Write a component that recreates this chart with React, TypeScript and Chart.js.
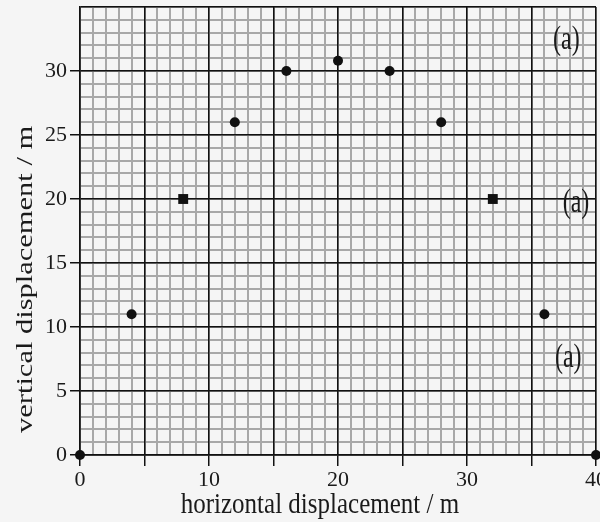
import { useEffect, useRef } from "react";
import { Chart, registerables } from "chart.js";

Chart.register(...registerables);

// ---- data ----
const xValues = [0, 4, 8, 12, 16, 20, 24, 28, 32, 36, 40];
const yValues = [0, 11, 20, 26, 30, 30.8, 30, 26, 20, 11, 0];
const pointShapes = ["circle", "circle", "rect", "circle", "circle", "circle", "circle", "circle", "rect", "circle", "circle"];
const xTickLabels = [0, 10, 20, 30, 40];
const yTickLabels = [0, 5, 10, 15, 20, 25, 30];
const noteText = "(a)";
const noteX = [37.7, 38.45, 37.85];
const noteY = [32.4, 19.7, 7.56];
const xTitle = "horizontal displacement / m";
const yTitle = "vertical displacement / m";

const FONT = "'Liberation Serif', 'DejaVu Serif', serif";
const INK = "#1a1a1a";

const textPlugin = {
  id: "textPlugin",
  beforeDraw(chart: any) {
    const ctx = chart.ctx;
    ctx.save();
    ctx.fillStyle = "#f5f5f5";
    ctx.fillRect(0, 0, chart.width, chart.height);
    ctx.restore();
  },
  afterDraw(chart: any) {
    const ctx = chart.ctx;
    const a = chart.chartArea;
    const xs = chart.scales.x;
    const ys = chart.scales.y;
    ctx.save();
    ctx.fillStyle = INK;
    // x title
    ctx.save();
    ctx.translate(a.left + (a.right - a.left) * 0.465, a.bottom + 58);
    ctx.scale(1, 1.2);
    ctx.font = `25px ${FONT}`;
    ctx.textAlign = "center";
    ctx.textBaseline = "alphabetic";
    ctx.fillText(xTitle, 0, 0);
    ctx.restore();
    // y title
    ctx.save();
    ctx.translate(26, a.top + (a.bottom - a.top) * 0.608);
    ctx.rotate(-Math.PI / 2);
    ctx.scale(1.27, 1);
    ctx.font = `24px ${FONT}`;
    ctx.textAlign = "center";
    ctx.textBaseline = "middle";
    ctx.fillText(yTitle, 0, 0);
    ctx.restore();
    // notes
    for (let i = 0; i < noteX.length; i++) {
      const px = xs.getPixelForValue(noteX[i]);
      const py = ys.getPixelForValue(noteY[i]);
      ctx.save();
      ctx.translate(px, py);
      ctx.scale(1, 1.4);
      ctx.font = `24px ${FONT}`;
      ctx.textAlign = "center";
      ctx.textBaseline = "middle";
      ctx.fillText(noteText, 0, 0);
      ctx.restore();
    }
    ctx.restore();
  },
};

export default function App() {
  const ref = useRef<HTMLCanvasElement | null>(null);

  useEffect(() => {
    if (!ref.current) return;
    const chart = new Chart(ref.current, {
      type: "scatter",
      data: {
        datasets: [
          {
            data: xValues.map((x, i) => ({ x, y: yValues[i] })),
            backgroundColor: "#111",
            borderColor: "#111",
            pointRadius: pointShapes.map((s) => (s === "rect" ? 7 : 5)),
            pointStyle: pointShapes as any,
            borderWidth: 0,
            clip: false as any,
            showLine: false,
            xAxisID: "x",
            yAxisID: "y",
          },
        ],
      },
      options: {
        responsive: false,
        maintainAspectRatio: false,
        devicePixelRatio: 1,
        animation: false,
        layout: { padding: { left: 0, top: 6, right: 24, bottom: 0 } },
        plugins: { legend: { display: false }, tooltip: { enabled: false } },
        scales: {
          x2: {
            axis: "x",
            type: "linear",
            position: "bottom",
            min: 0,
            max: 40,
            ticks: { display: false, stepSize: 1 },
            grid: { color: "#a8a8a8", lineWidth: 2, drawTicks: false, z: -2 },
            border: { display: false },
          },
          y2: {
            axis: "y",
            type: "linear",
            position: "left",
            min: 0,
            max: 35,
            ticks: { display: false, stepSize: 1 },
            grid: { color: "#a8a8a8", lineWidth: 2, drawTicks: false, z: -2 },
            border: { display: false },
          },
          x: {
            type: "linear",
            position: "bottom",
            min: 0,
            max: 40,
            afterFit: (s: any) => {
              s.height = 67;
            },
            ticks: {
              stepSize: 5,
              autoSkip: false,
              maxRotation: 0,
              padding: 1,
              color: INK,
              font: { family: FONT, size: 22 },
              callback: (v: any) => (xTickLabels.includes(Number(v)) ? String(v) : ""),
            },
            grid: { color: "#111", lineWidth: 1.5, tickLength: 11, tickColor: "#111", z: -1 },
            border: { display: true, color: "#111", width: 1.5 },
          },
          y: {
            type: "linear",
            position: "left",
            min: 0,
            max: 35,
            afterFit: (s: any) => {
              s.width = 80;
              s.paddingTop = 0;
              s.paddingBottom = 0;
            },
            ticks: {
              stepSize: 5,
              autoSkip: false,
              padding: 3,
              color: INK,
              font: { family: FONT, size: 22 },
              callback: (v: any) => (yTickLabels.includes(Number(v)) ? String(v) : ""),
            },
            grid: {
              color: "#111",
              lineWidth: 1.5,
              tickLength: 10,
              tickColor: (c: any) => (c.tick && yTickLabels.includes(c.tick.value) ? "#111" : "rgba(0,0,0,0)"),
              z: -1,
            },
            border: { display: true, color: "#111", width: 1.5 },
          },
        },
      } as any,
      plugins: [textPlugin],
    });
    return () => chart.destroy();
  }, []);

  return (
    <div
      style={{
        position: "fixed",
        left: 0,
        top: 0,
        width: 600,
        height: 522,
        overflow: "hidden",
        background: "#f5f5f5",
      }}
    >
      <canvas ref={ref} width={620} height={522} style={{ display: "block", width: 620, height: 522 }} />
    </div>
  );
}
